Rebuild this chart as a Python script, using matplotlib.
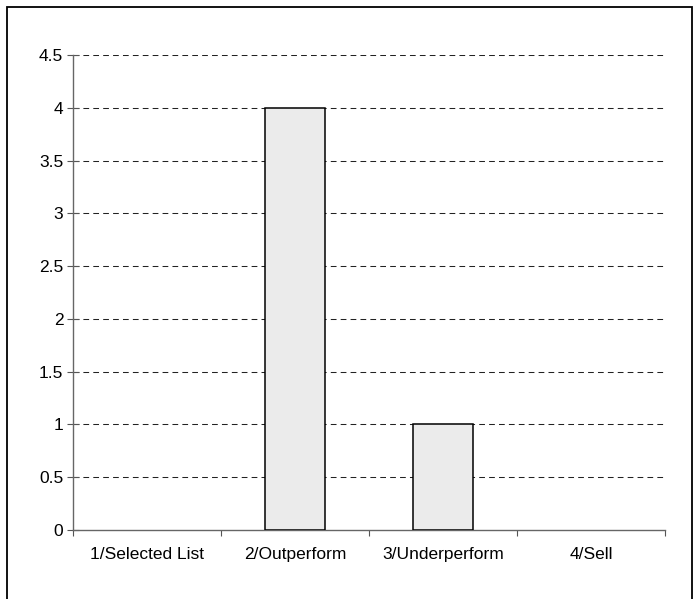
import matplotlib.pyplot as plt
from matplotlib.patches import Rectangle

categories = ['1/Selected List', '2/Outperform', '3/Underperform', '4/Sell']
counts = [0, 4, 1, 0]
yticks = [0, 0.5, 1, 1.5, 2, 2.5, 3, 3.5, 4, 4.5]
ylabels = ['0', '0.5', '1', '1.5', '2', '2.5', '3', '3.5', '4', '4.5']

plt.rcParams['font.family'] = ['Liberation Sans', 'DejaVu Sans']
FS = 12.5

W, H = 694, 599
fig = plt.figure(figsize=(W / 100, H / 100), dpi=100)
ax = fig.add_axes([73 / W, 1 - 530 / H, (665 - 73) / W, (530 - 55) / H])

# outer frame, bottom edge runs off the page
fig.patches.append(Rectangle((6.5 / W, -0.05), (692 - 6.5) / W, 1.05 - 6.5 / H,
                             transform=fig.transFigure, fill=False,
                             edgecolor='black', linewidth=1.3, clip_on=False))

pos = list(range(len(categories)))
edges = ['black' if c > 0 else 'none' for c in counts]
ax.bar(pos, counts, width=0.4, color='#ebebeb', edgecolor=edges,
       linewidth=1.1, zorder=3)

ax.set_xlim(-0.5, len(categories) - 0.5)
ax.set_ylim(0, 4.5)
ax.set_yticks(yticks)
ax.set_yticklabels(ylabels, fontsize=FS)

for y in yticks[1:]:
    ax.axhline(y, color='#222222', linewidth=0.75, dashes=(5.5, 4), zorder=1)

ax.set_xticks([p - 0.5 for p in pos] + [len(categories) - 0.5])
ax.set_xticklabels([])
ax.set_xticks(pos, minor=True)
ax.set_xticklabels(categories, minor=True, fontsize=FS)
ax.tick_params(axis='x', which='minor', length=0, pad=12)
ax.tick_params(axis='x', which='major', length=4, color='#555555', width=0.8)
ax.tick_params(axis='y', direction='inout', length=8, color='#555555',
               width=0.8, pad=3)

for s in ['top', 'right']:
    ax.spines[s].set_visible(False)
for s in ['left', 'bottom']:
    ax.spines[s].set_color('#666666')
    ax.spines[s].set_linewidth(1.0)

fig.savefig('out.png', dpi=100)
